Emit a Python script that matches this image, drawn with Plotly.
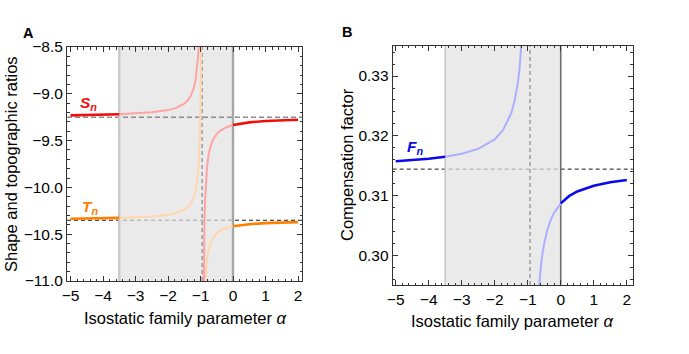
import plotly.graph_objects as go

# ---------------- data ----------------
# Panel A: shape ratio S_n and topographic ratio T_n versus alpha
alpha_A1 = [-5, -4.5, -4, -3.5, -3, -2.5, -2, -1.75, -1.5, -1.4, -1.3, -1.2, -1.15,
            -1.1, -1.07, -1.05, -1.03, -1.02, -1.01, -1.0, -0.99, -0.98]
S_A1 = [-9.230, -9.227, -9.224, -9.219, -9.211, -9.198, -9.174, -9.150, -9.105, -9.072,
        -9.021, -8.930, -8.850, -8.717, -8.583, -8.450, -8.250, -8.107, -7.917, -7.650,
        -7.250, -6.583]
T_A1 = [-10.335, -10.333, -10.330, -10.326, -10.320, -10.310, -10.291, -10.273, -10.237,
        -10.212, -10.173, -10.102, -10.040, -9.937, -9.833, -9.730, -9.575, -9.464,
        -9.317, -9.110, -8.800, -8.283]
alpha_A2 = [-0.92, -0.91, -0.90, -0.89, -0.88, -0.86, -0.84, -0.82, -0.8, -0.75, -0.7,
            -0.6, -0.5, -0.4, -0.3, -0.2, -0.1, 0, 0.25, 0.5, 1, 1.5, 2]
S_A2 = [-11.917, -11.250, -10.850, -10.583, -10.393, -10.139, -9.977, -9.865, -9.783,
        -9.650, -9.570, -9.479, -9.428, -9.395, -9.373, -9.357, -9.344, -9.334, -9.317,
        -9.305, -9.291, -9.283, -9.277]
T_A2 = [-12.417, -11.900, -11.590, -11.383, -11.236, -11.039, -10.914, -10.827, -10.763,
        -10.660, -10.598, -10.527, -10.488, -10.463, -10.445, -10.433, -10.423, -10.415,
        -10.402, -10.393, -10.382, -10.375, -10.371]
S_asym = -9.251
T_asym = -10.351
pole_A = -0.95

# Panel B: compensation factor F_n versus alpha
alpha_B1 = [-5, -4.5, -4, -3.5, -3, -2.5, -2, -1.75, -1.5, -1.4, -1.3, -1.25, -1.2,
            -1.15, -1.1]
F_B1 = [0.31576, 0.31594, 0.31618, 0.31652, 0.31702, 0.31784, 0.31942, 0.32094, 0.32378,
        0.32577, 0.32883, 0.33108, 0.33415, 0.33863, 0.34574]
alpha_B2 = [-0.68, -0.66, -0.64, -0.62, -0.6, -0.55, -0.5, -0.4, -0.3, -0.2, -0.1, 0,
            0.25, 0.5, 1, 1.5, 2]
F_B2 = [0.29317, 0.29475, 0.29611, 0.29729, 0.29833, 0.30045, 0.30208, 0.30441, 0.30601,
        0.30716, 0.30804, 0.30873, 0.30994, 0.31073, 0.31169, 0.31226, 0.31263]
F_asym = 0.31445
pole_B = -0.93

region = [-3.5, 0]

# the page's body margin is removed (post_script below), so no offset is needed
OFF = 0
W, H = 689, 354

def px_x(x):
    return (x - OFF) / W

def px_y(y):
    return 1 - (y - OFF) / H

# ---------------- helpers ----------------
def split(xs, ys, lo, hi):
    left = [(x, y) for x, y in zip(xs, ys) if x <= lo]
    mid = [(x, y) for x, y in zip(xs, ys) if lo <= x <= hi]
    right = [(x, y) for x, y in zip(xs, ys) if x >= hi]
    return left, mid, right

fig = go.Figure()

def add_curve(xs, ys, dark, light, xa, ya):
    left, mid, right = split(xs, ys, region[0], region[1])
    for pts, col, w in ((mid, light, 2.0), (left, dark, 2.6), (right, dark, 2.6)):
        if len(pts) > 1:
            fig.add_trace(go.Scatter(x=[p[0] for p in pts], y=[p[1] for p in pts],
                                     mode="lines", line=dict(color=col, width=w),
                                     xaxis=xa, yaxis=ya, showlegend=False,
                                     hoverinfo="skip"))

RED, PINK = "#F20D0D", "#FFA3A3"
ORANGE, LORANGE = "#FF7F00", "#FFD6AD"
BLUE, LBLUE = "#0A0AEE", "#AEAEFF"

add_curve(alpha_A1, T_A1, ORANGE, LORANGE, "x", "y")
add_curve(alpha_A2, T_A2, ORANGE, LORANGE, "x", "y")
add_curve(alpha_A1, S_A1, RED, PINK, "x", "y")
add_curve(alpha_A2, S_A2, RED, PINK, "x", "y")
add_curve(alpha_B1, F_B1, BLUE, LBLUE, "x2", "y2")
add_curve(alpha_B2, F_B2, BLUE, LBLUE, "x2", "y2")

# ---------------- shapes ----------------
shapes = []

def build(xd, yd, pole, light_w, dark_col, dark_w, asyms):
    for val, col, w, dash in asyms:
        if col == "black":
            shapes.append(dict(type="line", xref=xd + " domain", yref=yd, x0=0, x1=1,
                               y0=val, y1=val, layer="below",
                               line=dict(color="#1A1A1A", width=w, dash=dash)))
    shapes.append(dict(type="rect", xref=xd, yref=yd + " domain", x0=region[0], x1=region[1],
                       y0=0, y1=1, layer="below", fillcolor="rgb(225,225,225)",
                       opacity=0.7, line=dict(width=0)))
    for val, col, w, dash in asyms:
        if col != "black":
            shapes.append(dict(type="line", xref=xd + " domain", yref=yd, x0=0, x1=1,
                               y0=val, y1=val, layer="below",
                               line=dict(color=col, width=w, dash=dash)))
    shapes.append(dict(type="line", xref=xd, yref=yd + " domain", x0=region[0], x1=region[0],
                       y0=0, y1=1, layer="below", line=dict(color="#C9C9C9", width=light_w)))
    shapes.append(dict(type="line", xref=xd, yref=yd + " domain", x0=region[1], x1=region[1],
                       y0=0, y1=1, layer="below", line=dict(color=dark_col, width=dark_w)))
    shapes.append(dict(type="line", xref=xd, yref=yd + " domain", x0=pole, x1=pole,
                       y0=0, y1=1, layer="below",
                       line=dict(color="#8A8A8A", width=1.2, dash="4px,3px")))

build("x", "y", pole_A, 2.4, "#A6A6A6", 2.4,
      [(S_asym, "#8C8C8C", 1.6, "5px,3px"), (T_asym, "black", 1.0, "4px,3px")])
build("x2", "y2", pole_B, 1.6, "#6E6E6E", 1.6,
      [(F_asym, "black", 1.0, "4px,3px")])

# ---------------- axes ----------------
FONT = "Liberation Sans, Arial, sans-serif"

def axis(domain, rng, dtick, minor, tick0=0, fmt=None, anchor=None):
    d = dict(domain=domain, range=rng, dtick=dtick, tick0=tick0, ticks="inside", ticklen=5,
             tickwidth=1, tickcolor="#333", showline=True, linecolor="#333", linewidth=1,
             mirror="allticks", showgrid=False, zeroline=False,
             tickfont=dict(family=FONT, size=15.5, color="black"),
             minor=dict(ticks="inside", ticklen=2.5, tickwidth=0.8, tickcolor="#333",
                        dtick=minor, showgrid=False),
             automargin=False, anchor=anchor)
    if fmt:
        d["tickformat"] = fmt
    return d

fig.update_layout(
    width=W, height=H, margin=dict(l=0, r=0, t=0, b=0),
    paper_bgcolor="white", plot_bgcolor="white", template="none",
    font=dict(family=FONT, size=13, color="black"),
    xaxis=axis([px_x(67), px_x(302)], [-5.108, 2.123], 1, 0.2, anchor="y"),
    yaxis=axis([px_y(281), px_y(47)], [-11, -8.5], 0.5, 0.1, tick0=-11, fmt=".1f",
               anchor="x"),
    xaxis2=axis([px_x(392.7), px_x(632.7)], [-5.09, 2.18], 1, 0.2, anchor="y2"),
    yaxis2=axis([px_y(285), px_y(45.5)], [0.2951, 0.3351], 0.01, 0.002, fmt=".2f",
                anchor="x2"),
    shapes=shapes,
)

# ---------------- annotations ----------------
ann = []

def label(txt, x, y, col, xr, yr):
    ann.append(dict(text=txt, x=x, y=y, xref=xr, yref=yr, showarrow=False,
                    font=dict(family=FONT, size=15.5, color=col), xanchor="center",
                    yanchor="middle"))

label("<b><i>S</i></b><sub><b><i>n</i></b></sub>", -4.45, -9.10, RED, "x", "y")
label("<b><i>T</i></b><sub><b><i>n</i></b></sub>", -4.4, -10.21, ORANGE, "x", "y")
label("<b><i>F</i></b><sub><b><i>n</i></b></sub>", -4.42, 0.3181, BLUE, "x2", "y2")

def ptext(txt, x, y, size=16.5, angle=0, bold=False):
    ann.append(dict(text=f"<b>{txt}</b>" if bold else txt, x=px_x(x), y=px_y(y),
                    xref="paper", yref="paper", showarrow=False, textangle=angle,
                    font=dict(family=FONT, size=size, color="black"),
                    xanchor="center", yanchor="middle"))

ptext("A", 28, 33, 14.5, bold=True)
ptext("B", 347, 32, 14.5, bold=True)
ptext("Isostatic family parameter <i>α</i>", 185, 318)
ptext("Isostatic family parameter <i>α</i>", 512, 321)
ptext("Shape and topographic ratios", 11, 164, angle=-90)
ptext("Compensation factor", 347, 165, angle=-90)

fig.update_layout(annotations=ann)
fig.write_html("out.html",
               config={"displayModeBar": False},
               post_script="document.body.style.margin='0';"
                           "document.body.style.padding='0';")
